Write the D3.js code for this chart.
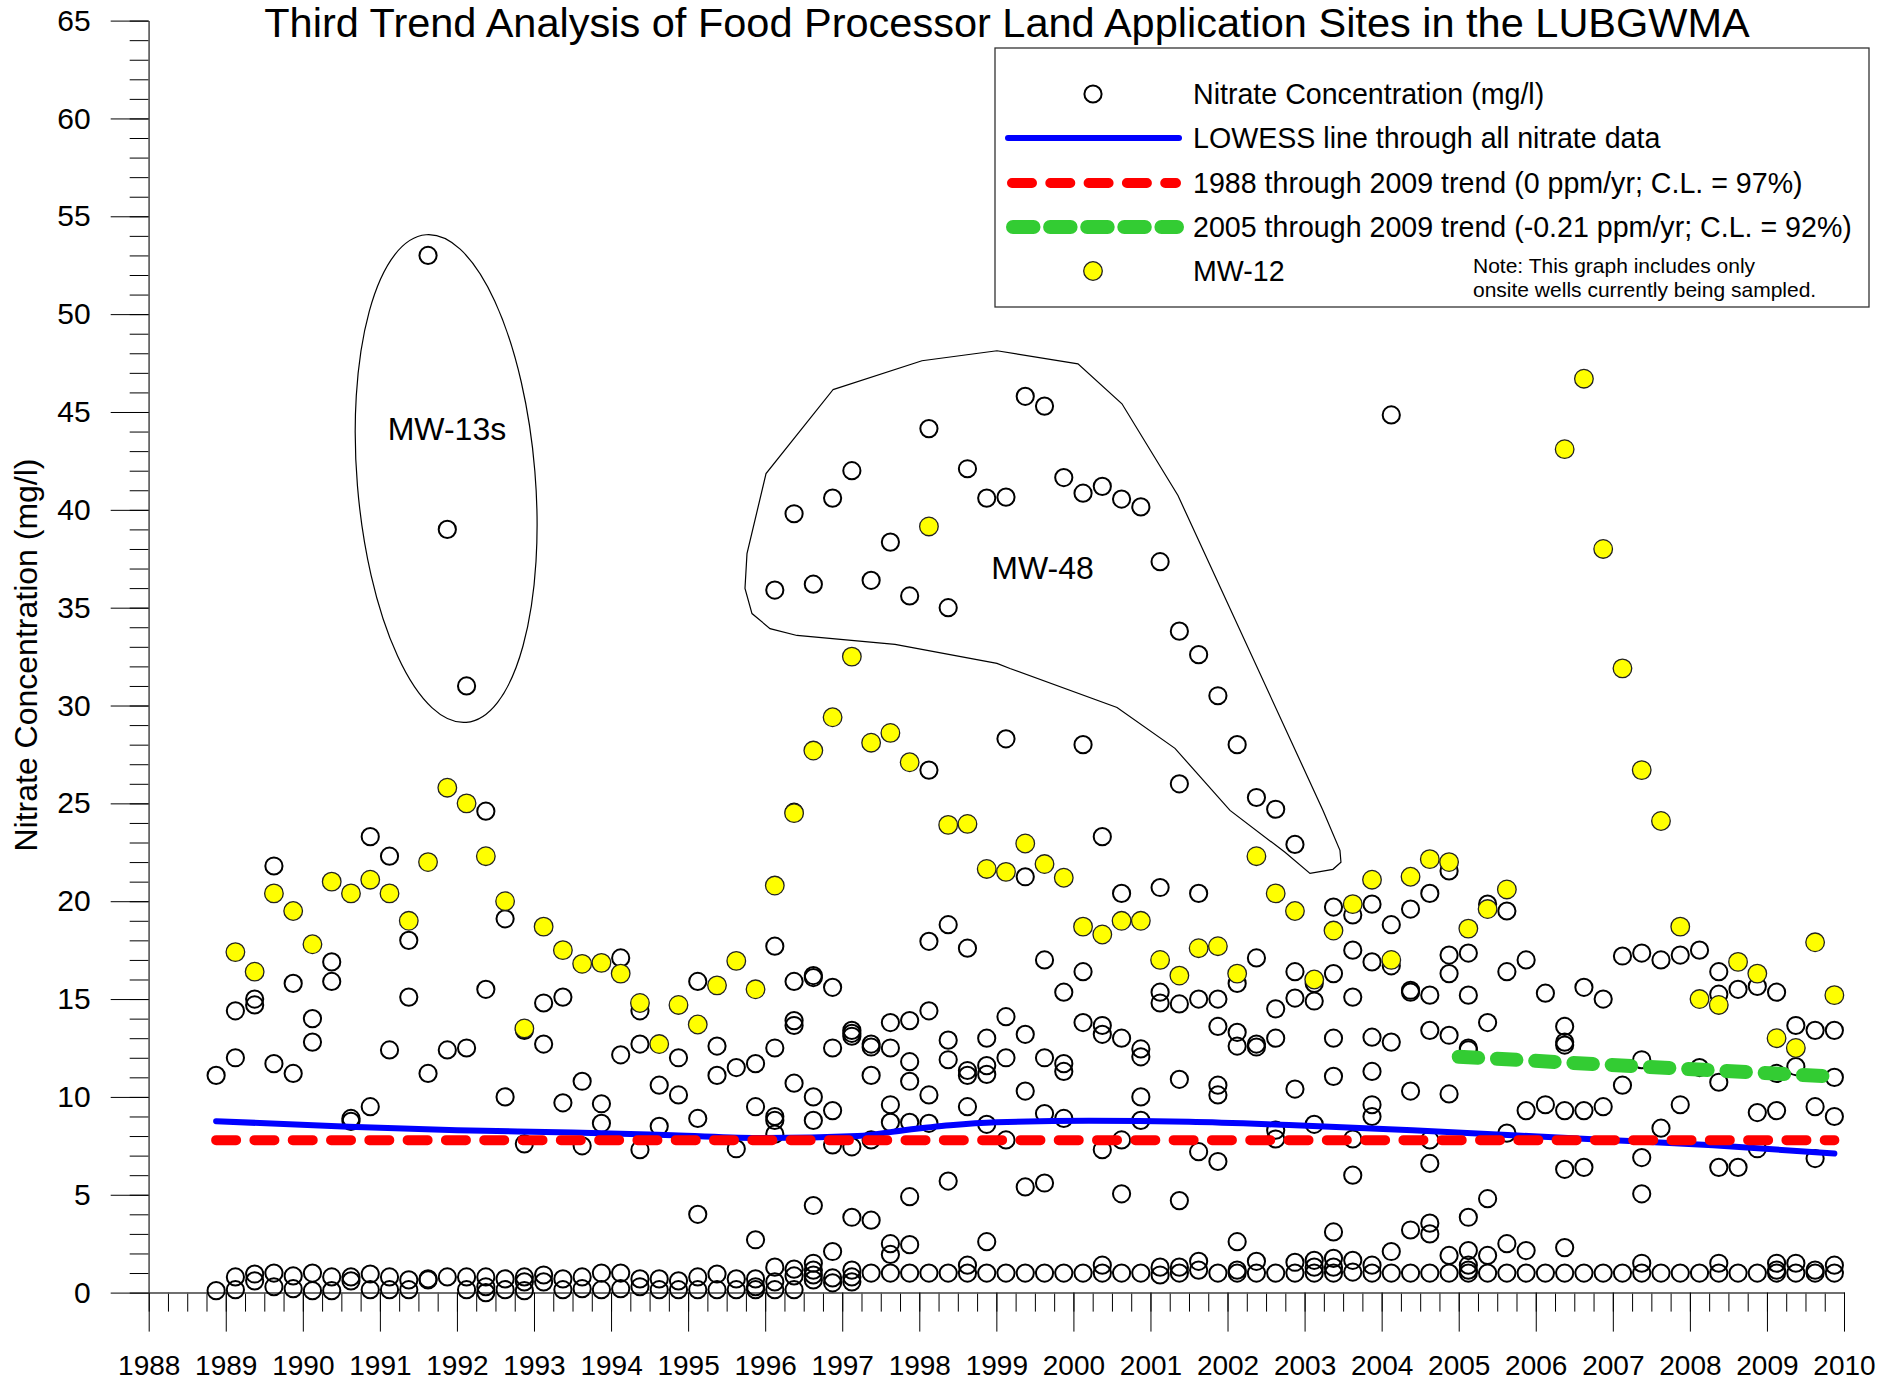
<!DOCTYPE html>
<html><head><meta charset="utf-8">
<script src="https://cdn.jsdelivr.net/npm/d3@7"></script>
<style>
body{margin:0;background:#fff;}
svg{display:block;font-family:"Liberation Sans",Arial,Helvetica,sans-serif;}
</style></head><body>
<svg id="chart" width="1896" height="1382"></svg>
<script>
// ---------------- DATA ----------------
const sampleDates = [1988.875,
 1989.125,1989.375,1989.625,1989.875, 1990.125,1990.375,1990.625,1990.875,
 1991.125,1991.375,1991.625,1991.875, 1992.125,1992.375,1992.625,1992.875,
 1993.125,1993.375,1993.625,1993.875, 1994.125,1994.375,1994.625,1994.875,
 1995.125,1995.375,1995.625,1995.875, 1996.125,1996.375,1996.625,1996.875,
 1997.125,1997.375,1997.625,1997.875, 1998.125,1998.375,1998.625,1998.875,
 1999.125,1999.375,1999.625,1999.875, 2000.125,2000.375,2000.625,2000.875,
 2001.125,2001.375,2001.625,2001.875, 2002.125,2002.375,2002.625,2002.875,
 2003.125,2003.375,2003.625,2003.875, 2004.125,2004.375,2004.625,2004.875,
 2005.125,2005.375,2005.625,2005.875, 2006.125,2006.375,2006.625,2006.875,
 2007.125,2007.375,2007.625,2007.875, 2008.125,2008.375,2008.625,2008.875,
 2009.125,2009.375,2009.625,2009.875];

// nitrate concentrations (mg/l) of all wells, one list per sampling quarter
const nitrateValues = [
 [11.1,0.1],
 [14.4,12.0,0.8,0.15],
 [15.0,14.7,0.95,0.6],
 [21.8,11.7,1.0,0.3],
 [15.8,11.2,0.85,0.2],
 [14.0,12.8,1.0,0.1],
 [16.9,15.9,0.8,0.1],
 [8.9,8.75,0.8,0.6],
 [23.3,9.5,0.95,0.15],
 [22.3,12.4,0.8,0.15],
 [18.0,15.1,0.65,0.15],
 [53.0,11.2,0.7,0.65],
 [39.0,12.4,0.8],
 [31.0,12.5,0.8,0.15],
 [24.6,15.5,0.8,0.3,0.0],
 [19.1,10.0,0.7,0.15],
 [13.4,7.6,0.8,0.55,0.1],
 [14.8,12.7,0.9,0.55],
 [15.1,9.7,0.7,0.15],
 [10.8,7.5,0.8,0.2],
 [9.65,8.65,1.0,0.15],
 [17.1,12.15,1.0,0.2],
 [14.4,12.7,7.3,0.7,0.3],
 [10.6,8.5,0.7,0.15],
 [12.0,10.1,0.6,0.15],
 [15.9,8.9,4.0,0.8,0.15],
 [12.6,11.1,0.95,0.15],
 [11.5,7.35,0.7,0.15],
 [11.7,9.5,2.7,0.7,0.3,0.15],
 [35.9,17.7,12.5,9.0,8.8,8.1,1.3,0.55,0.15],
 [39.8,24.55,15.9,13.9,13.65,10.7,1.2,0.85,0.15],
 [36.2,16.2,16.1,10.0,8.8,4.45,1.5,1.15,0.9,0.65],
 [40.6,15.6,12.5,9.3,7.55,2.1,0.75,0.5],
 [42.0,13.4,13.25,13.1,7.45,3.85,1.15,0.8,0.55],
 [36.4,12.7,12.55,11.1,7.8,3.7,1.0],
 [38.35,13.8,12.5,9.6,8.7,2.5,1.95,1.0],
 [35.6,13.9,11.8,10.8,8.7,4.9,2.45,1.0],
 [44.15,26.7,17.95,14.4,10.1,8.65,1.0],
 [35.0,18.8,12.9,11.9,5.7,1.0],
 [42.1,17.6,11.35,11.1,9.5,1.4,1.0],
 [40.6,13.0,11.6,11.15,8.6,2.6,1.0],
 [40.65,28.3,14.1,12.0,7.8,1.0],
 [45.8,21.25,13.2,10.3,5.4,1.0],
 [45.3,17.0,12.0,9.15,5.6,1.0],
 [41.65,15.35,11.7,11.3,8.9,1.0],
 [40.85,28.0,16.4,13.8,1.0],
 [41.2,23.3,13.65,13.2,7.3,1.4,1.0],
 [40.55,20.4,13.0,7.8,5.05,1.0],
 [40.15,12.45,12.05,10.0,8.8,1.0],
 [37.35,20.7,15.35,14.8,1.3,0.9],
 [33.8,26.0,14.75,10.9,4.7,1.3,1.0],
 [32.6,20.4,15.0,7.2,1.6,1.15],
 [30.5,15.0,13.6,10.6,10.1,6.7,1.0],
 [28.0,15.8,13.3,12.6,2.6,1.15,1.0],
 [25.3,17.1,12.7,12.55,1.6,1.0],
 [24.7,14.5,13.0,8.3,7.85,1.0],
 [22.9,16.4,15.05,10.4,1.55,1.0],
 [15.8,14.9,8.6,1.65,1.3,1.0],
 [19.7,16.3,13.0,11.05,3.1,1.75,1.3,1.0],
 [19.3,17.5,15.1,7.85,6.0,1.65,1.05],
 [19.85,16.9,13.05,11.3,9.6,9.0,1.4,1.0],
 [44.85,18.8,16.7,12.8,2.1,1.0],
 [19.6,15.45,15.35,10.3,3.2,1.0],
 [20.4,15.2,13.4,7.8,6.6,3.55,3.0,1.0],
 [21.55,17.25,16.3,13.15,10.15,1.9,1.0],
 [17.35,15.2,12.5,12.4,3.85,2.15,1.4,1.15,1.0],
 [19.85,13.8,4.8,1.9,1.0],
 [19.5,16.4,8.15,2.5,1.0],
 [17.0,9.3,2.15,1.0],
 [15.3,9.6,1.0],
 [13.6,12.8,12.65,9.3,6.3,2.3,1.0],
 [15.6,9.3,6.4,1.0],
 [15.0,9.5,1.0],
 [17.2,10.6,1.0],
 [17.35,11.9,6.9,5.05,1.5,1.0],
 [17.0,8.4,1.0],
 [17.25,9.6,1.0],
 [17.5,11.5,1.0],
 [16.4,15.25,10.75,6.4,1.5,1.0],
 [15.5,6.4,1.0],
 [15.65,9.2,7.35,1.0],
 [15.35,11.2,9.3,1.5,1.15,1.0],
 [13.65,11.55,1.5,1.0],
 [13.4,9.5,6.85,1.15,1.0],
 [13.4,11.0,9.0,1.4,1.0]
];

// MW-12 (one value per quarter, null = not sampled)
const mw12Values = [null,
 17.4,16.4,20.4,19.5,17.8,21.0,20.4,21.1,20.4,19.0,
 22.0,25.8,25.0,22.3,20.0,13.5,18.7,17.5,16.8,16.85,
 16.3,14.8,12.7,14.7,13.7,15.7,16.95,15.5,20.8,24.5,
 27.7,29.4,32.5,28.1,28.6,27.1,39.15,23.9,23.95,21.65,
 21.5,22.95,21.9,21.2,18.7,18.3,19.0,19.0,17.0,16.2,
 17.6,17.7,16.3,22.3,20.4,19.5,16.0,18.5,19.85,21.1,
 17.0,21.25,22.15,22.0,18.6,19.6,20.6,null,null,
 43.1,46.7,38.0,31.9,26.7,24.1,18.7,15.0,14.7,16.9,16.3,13.0,12.5,17.9,15.2];

const lowessYears  = [1988.875,1990.6,1992.0,1993.5,1994.8,1996.0,1997.2,1997.8,1998.4,1999.0,2000.2,2001.5,2002.8,2004.4,2005.7,2007.0,2008.3,2009.875];
const lowessValues = [8.76,8.47,8.3,8.18,8.04,7.9,8.0,8.3,8.55,8.7,8.78,8.73,8.56,8.3,8.04,7.79,7.53,7.11];

const trendAllYears = [1988.875, 2009.875];
const trendAllValues = [7.79, 7.79];
const trendRecentYears = [2005.0, 2009.875];
const trendRecentValues = [12.05, 11.03];

const yearTicks = [1988,1989,1990,1991,1992,1993,1994,1995,1996,1997,1998,1999,2000,2001,2002,2003,2004,2005,2006,2007,2008,2009,2010];
const concentrationTicks = [0,5,10,15,20,25,30,35,40,45,50,55,60,65];

const legendLabels = [
 "Nitrate Concentration (mg/l)",
 "LOWESS line through all nitrate data",
 "1988 through 2009 trend (0 ppm/yr; C.L. = 97%)",
 "2005 through 2009 trend (-0.21 ppm/yr; C.L. = 92%)",
 "MW-12"];

// annotation outlines in data units (year, mg/l)
const mw13sOutline = {year: 1991.86, value: 41.6, halfYears: 1.155, halfValue: 12.5, tilt: -4.7};
const mw48Outline = [
 [1996.880,46.14],[1998.035,47.62],[1999.008,48.13],[2000.059,47.46],[2000.630,45.42],
 [2001.357,40.73],[2003.239,24.64],[2003.459,22.60],[2003.472,21.99],[2003.368,21.63],
 [2003.070,21.42],[2002.746,22.50],[2002.032,24.64],[2001.318,27.81],[2000.566,29.90],
 [1999.177,31.89],[1999.008,32.15],[1997.685,33.12],[1996.413,33.58],[1996.063,33.93],
 [1995.829,34.70],[1995.738,35.98],[1995.764,37.76],[1996.011,41.85]];

// ---------------- CHART ----------------
const svg = d3.select("#chart");
const x = d3.scaleLinear().domain([1988, 2010]).range([148.7, 1844]);
const y = d3.scaleLinear().domain([0, 65]).range([1292.6, 20.6]);

// title
svg.append("text").attr("x", 1007).attr("y", 37).attr("text-anchor", "middle")
  .attr("font-size", 41.5).attr("fill", "#000")
  .text("Third Trend Analysis of Food Processor Land Application Sites in the LUBGWMA");

// y axis
const gy = svg.append("g").attr("transform", `translate(${x(1988)},0)`);
gy.append("g").call(d3.axisLeft(y).tickValues(d3.range(0, 66, 1)).tickSize(19).tickSizeOuter(0).tickFormat(""));
gy.append("g").call(d3.axisLeft(y).tickValues(concentrationTicks).tickSize(38).tickSizeOuter(0).tickPadding(20))
  .selectAll("text").attr("font-size", 30).attr("font-family", "Liberation Sans, Arial, sans-serif").attr("fill", "#000");
gy.selectAll(".domain").attr("stroke", "#666").attr("stroke-width", 1.5);
gy.selectAll(".tick line").attr("stroke", "#000").attr("stroke-width", 1);

// x axis
const gx = svg.append("g").attr("transform", `translate(0,${y(0)})`);
gx.append("g").call(d3.axisBottom(x).tickValues(d3.range(1988, 2010.01, 0.25)).tickSize(19).tickSizeOuter(0).tickFormat(""));
gx.append("g").call(d3.axisBottom(x).tickValues(yearTicks).tickSize(39).tickSizeOuter(0).tickPadding(24).tickFormat(d3.format("d")))
  .selectAll("text").attr("font-size", 28).attr("font-family", "Liberation Sans, Arial, sans-serif").attr("fill", "#000");
gx.selectAll(".domain").attr("stroke", "#666").attr("stroke-width", 1.5);
gx.selectAll(".tick line").attr("stroke", "#000").attr("stroke-width", 1);

// y axis title
svg.append("text").attr("transform", "translate(37,655) rotate(-90)").attr("text-anchor", "middle")
  .attr("font-size", 32).attr("fill", "#000").text("Nitrate Concentration (mg/l)");

// annotation outlines
const e = mw13sOutline;
svg.append("ellipse")
  .attr("cx", x(e.year)).attr("cy", y(e.value))
  .attr("rx", x(e.year + e.halfYears) - x(e.year))
  .attr("ry", y(e.value) - y(e.value + e.halfValue))
  .attr("transform", `rotate(${e.tilt},${x(e.year)},${y(e.value)})`)
  .attr("fill", "none").attr("stroke", "#000").attr("stroke-width", 1.2);
svg.append("path")
  .attr("d", d3.line().x(d => x(d[0])).y(d => y(d[1])).curve(d3.curveLinearClosed)(mw48Outline))
  .attr("fill", "none").attr("stroke", "#000").attr("stroke-width", 1.2);
svg.append("text").attr("x", x(1991.87)).attr("y", y(44.15) + 11).attr("text-anchor", "middle")
  .attr("font-size", 32).text("MW-13s");
svg.append("text").attr("x", x(1999.6)).attr("y", y(37.05) + 11).attr("text-anchor", "middle")
  .attr("font-size", 32).text("MW-48");

// all nitrate points
const openPts = [];
nitrateValues.forEach((vals, i) => vals.forEach(v => openPts.push([sampleDates[i], v])));
svg.append("g").selectAll("circle").data(openPts).join("circle")
  .attr("cx", d => x(d[0])).attr("cy", d => y(d[1])).attr("r", 8.6)
  .attr("fill", "none").attr("stroke", "#000").attr("stroke-width", 2);

// MW-12
const mwPts = sampleDates.map((t, i) => [t, mw12Values[i]]).filter(d => d[1] !== null);
svg.append("g").selectAll("circle").data(mwPts).join("circle")
  .attr("cx", d => x(d[0])).attr("cy", d => y(d[1])).attr("r", 9.3)
  .attr("fill", "#ffff00").attr("stroke", "#222").attr("stroke-width", 1.3);

// lines
const line = d3.line().x(d => x(d[0])).y(d => y(d[1]));
svg.append("path").attr("d", line.curve(d3.curveMonotoneX)(lowessYears.map((t, i) => [t, lowessValues[i]])))
  .attr("fill", "none").attr("stroke", "#0000ff").attr("stroke-width", 6).attr("stroke-linecap", "round");
const straight = d3.line().x(d => x(d[0])).y(d => y(d[1]));
svg.append("path").attr("d", straight(trendAllYears.map((t, i) => [t, trendAllValues[i]])))
  .attr("fill", "none").attr("stroke", "#ff0000").attr("stroke-width", 10)
  .attr("stroke-linecap", "round").attr("stroke-dasharray", "20,18.3");
svg.append("path").attr("d", straight(trendRecentYears.map((t, i) => [t, trendRecentValues[i]])))
  .attr("fill", "none").attr("stroke", "#33cc33").attr("stroke-width", 14)
  .attr("stroke-linecap", "round").attr("stroke-dasharray", "19.5,18.8");

// legend
const lg = svg.append("g");
lg.append("rect").attr("x", 995).attr("y", 48).attr("width", 874).attr("height", 259)
  .attr("fill", "#fff").attr("stroke", "#333").attr("stroke-width", 1.3);
const rows = [94, 138, 183, 227, 271];
lg.append("circle").attr("cx", 1093).attr("cy", rows[0]).attr("r", 8.6)
  .attr("fill", "none").attr("stroke", "#000").attr("stroke-width", 2);
lg.append("line").attr("x1", 1008).attr("x2", 1179).attr("y1", rows[1]).attr("y2", rows[1])
  .attr("stroke", "#0000ff").attr("stroke-width", 6).attr("stroke-linecap", "round");
lg.append("line").attr("x1", 1012).attr("x2", 1176).attr("y1", rows[2]).attr("y2", rows[2])
  .attr("stroke", "#ff0000").attr("stroke-width", 10).attr("stroke-linecap", "round").attr("stroke-dasharray", "20,18.3");
lg.append("line").attr("x1", 1013).attr("x2", 1177).attr("y1", rows[3]).attr("y2", rows[3])
  .attr("stroke", "#33cc33").attr("stroke-width", 14).attr("stroke-linecap", "round").attr("stroke-dasharray", "20.5,16.6");
lg.append("circle").attr("cx", 1093).attr("cy", rows[4]).attr("r", 9.3)
  .attr("fill", "#ffff00").attr("stroke", "#222").attr("stroke-width", 1.3);
legendLabels.forEach((t, i) => {
  lg.append("text").attr("x", 1193).attr("y", rows[i] + 10).attr("font-size", 28.6).text(t);
});
lg.append("text").attr("x", 1473).attr("y", 273).attr("font-size", 21).text("Note: This graph includes only");
lg.append("text").attr("x", 1473).attr("y", 297).attr("font-size", 21).text("onsite wells currently being sampled.");
</script>
</body></html>
